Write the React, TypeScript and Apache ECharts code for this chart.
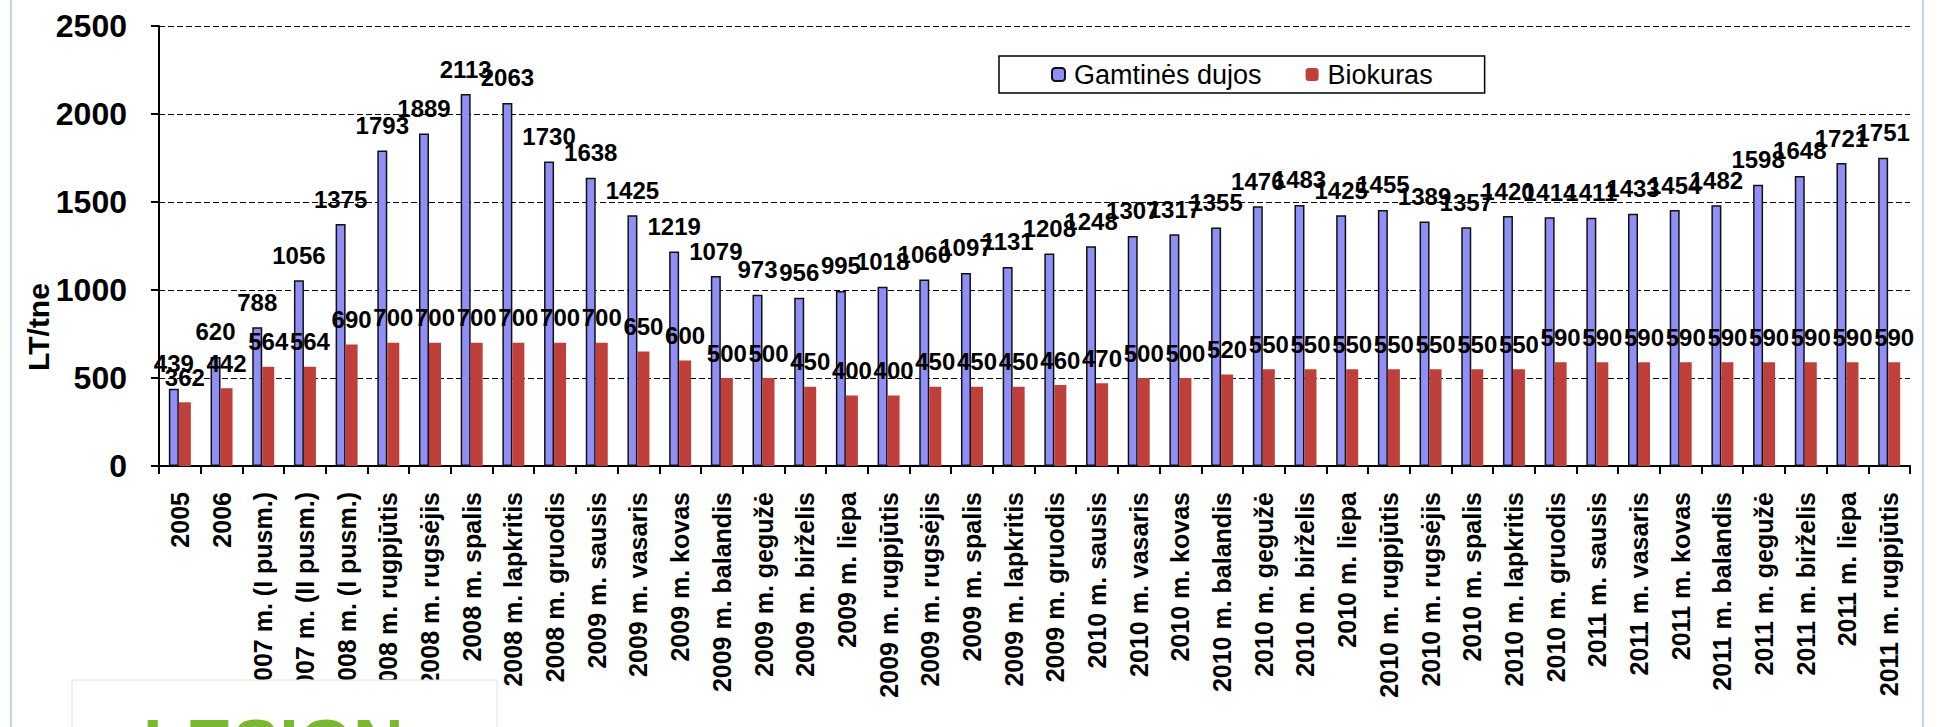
import React, { useEffect, useRef } from "react";
import * as echarts from "echarts";

const categories = [
  "2005",
  "2006",
  "2007 m. (I pusm.)",
  "2007 m. (II pusm.)",
  "2008 m. (I pusm.)",
  "2008 m. rugpjūtis",
  "2008 m. rugsėjis",
  "2008 m. spalis",
  "2008 m. lapkritis",
  "2008 m. gruodis",
  "2009 m. sausis",
  "2009 m. vasaris",
  "2009 m. kovas",
  "2009 m. balandis",
  "2009 m. gegužė",
  "2009 m. birželis",
  "2009 m. liepa",
  "2009 m. rugpjūtis",
  "2009 m. rugsėjis",
  "2009 m. spalis",
  "2009 m. lapkritis",
  "2009 m. gruodis",
  "2010 m. sausis",
  "2010 m. vasaris",
  "2010 m. kovas",
  "2010 m. balandis",
  "2010 m. gegužė",
  "2010 m. birželis",
  "2010 m. liepa",
  "2010 m. rugpjūtis",
  "2010 m. rugsėjis",
  "2010 m. spalis",
  "2010 m. lapkritis",
  "2010 m. gruodis",
  "2011 m. sausis",
  "2011 m. vasaris",
  "2011 m. kovas",
  "2011 m. balandis",
  "2011 m. gegužė",
  "2011 m. birželis",
  "2011 m. liepa",
  "2011 m. rugpjūtis",
];

const gasPrices = [
  439, 620, 788, 1056, 1375, 1793, 1889, 2113, 2063, 1730, 1638, 1425, 1219,
  1079, 973, 956, 995, 1018, 1060, 1097, 1131, 1208, 1248, 1307, 1317, 1355,
  1476, 1483, 1425, 1455, 1389, 1357, 1420, 1414, 1411, 1433, 1454, 1482, 1598,
  1648, 1721, 1751,
];

const bioPrices = [
  362, 442, 564, 564, 690, 700, 700, 700, 700, 700, 700, 650, 600, 500, 500,
  450, 400, 400, 450, 450, 450, 460, 470, 500, 500, 520, 550, 550, 550, 550,
  550, 550, 550, 590, 590, 590, 590, 590, 590, 590, 590, 590,
];

const seriesNames = ["Gamtinės dujos", "Biokuras"];
const yAxisTitle = "LT/tne";
const yMin = 0;
const yMax = 2500;
const yStep = 500;

const FONT = "'Liberation Sans', Arial, Helvetica, sans-serif";

export default function App() {
  const ref = useRef<HTMLDivElement | null>(null);

  useEffect(() => {
    if (!ref.current) return;
    const chart = echarts.init(ref.current, undefined, { renderer: "svg" });

    const valueLabel = {
      show: true,
      position: "top",
      distance: 13,
      fontSize: 24,
      fontWeight: "bold",
      color: "#000",
      fontFamily: FONT,
    };

    chart.setOption({
      animation: false,
      backgroundColor: "#ffffff",
      textStyle: { fontFamily: FONT },
      grid: { left: 159, right: 33, top: 26, bottom: 261, containLabel: false },
      legend: {
        data: seriesNames,
        left: 999,
        top: 56,
        padding: [5, 52, 5, 52],
        borderColor: "#000",
        borderWidth: 1.5,
        backgroundColor: "#fff",
        itemWidth: 13,
        itemHeight: 13,
        itemGap: 44,
        textStyle: {
          fontSize: 27,
          color: "#000",
          fontFamily: FONT,
          padding: [0, 0, 0, 4],
        },
      },
      xAxis: {
        type: "category",
        data: categories,
        axisLine: { show: true, lineStyle: { color: "#000", width: 2 } },
        axisTick: { show: true, length: 8, lineStyle: { color: "#000", width: 2 } },
        axisLabel: {
          interval: 0,
          rotate: 90,
          margin: 26,
          fontSize: 25,
          fontWeight: "bold",
          color: "#000",
          fontFamily: FONT,
        },
        splitLine: { show: false },
      },
      yAxis: {
        type: "value",
        min: yMin,
        max: yMax,
        interval: yStep,
        axisLine: { show: true, lineStyle: { color: "#000", width: 2 } },
        axisTick: { show: true, length: 8, lineStyle: { color: "#000", width: 2 } },
        axisLabel: {
          fontSize: 32,
          fontWeight: "bold",
          margin: 32,
          color: "#000",
          fontFamily: FONT,
          formatter: (v: number) => String(v),
        },
        splitLine: {
          show: true,
          lineStyle: { color: "#000", width: 1, type: [6, 3] },
        },
      },
      series: [
        {
          name: seriesNames[0],
          type: "bar",
          data: gasPrices,
          barWidth: 10,
          barGap: "0%",
          itemStyle: { color: "#8F8FF6", borderColor: "#111", borderWidth: 1.5 },
          label: valueLabel,
        },
        {
          name: seriesNames[1],
          type: "bar",
          data: bioPrices,
          barWidth: 12,
          barGap: "0%",
          itemStyle: { color: "#BF3F3A" },
          label: valueLabel,
        },
      ],
      graphic: [
        {
          type: "text",
          x: 38,
          y: 327,
          rotation: Math.PI / 2,
          style: {
            text: yAxisTitle,
            font: `bold 30px ${FONT}`,
            fill: "#000",
            textAlign: "center",
            textVerticalAlign: "middle",
          },
        },
        {
          type: "line",
          shape: { x1: 11, y1: 0, x2: 11, y2: 727 },
          style: { stroke: "#C3D4EC", lineWidth: 2 },
        },
        {
          type: "line",
          shape: { x1: 1923, y1: 0, x2: 1923, y2: 727 },
          style: { stroke: "#C3D4EC", lineWidth: 2 },
        },
        {
          type: "rect",
          z: 100,
          shape: { x: 72, y: 680, width: 425, height: 60 },
          style: { fill: "#ffffff", stroke: "#e4e4e4", lineWidth: 1 },
        },
        {
          type: "text",
          z: 101,
          x: 143,
          y: 710,
          style: {
            text: "LESIGN",
            font: `bold 70px ${FONT}`,
            fill: "#7CB82F",
            textVerticalAlign: "top",
          },
        },
      ],
    });

    return () => chart.dispose();
  }, []);

  return (
    <div
      ref={ref}
      style={{
        position: "fixed",
        left: 0,
        top: 0,
        width: 1943,
        height: 727,
        background: "#fff",
      }}
    />
  );
}
